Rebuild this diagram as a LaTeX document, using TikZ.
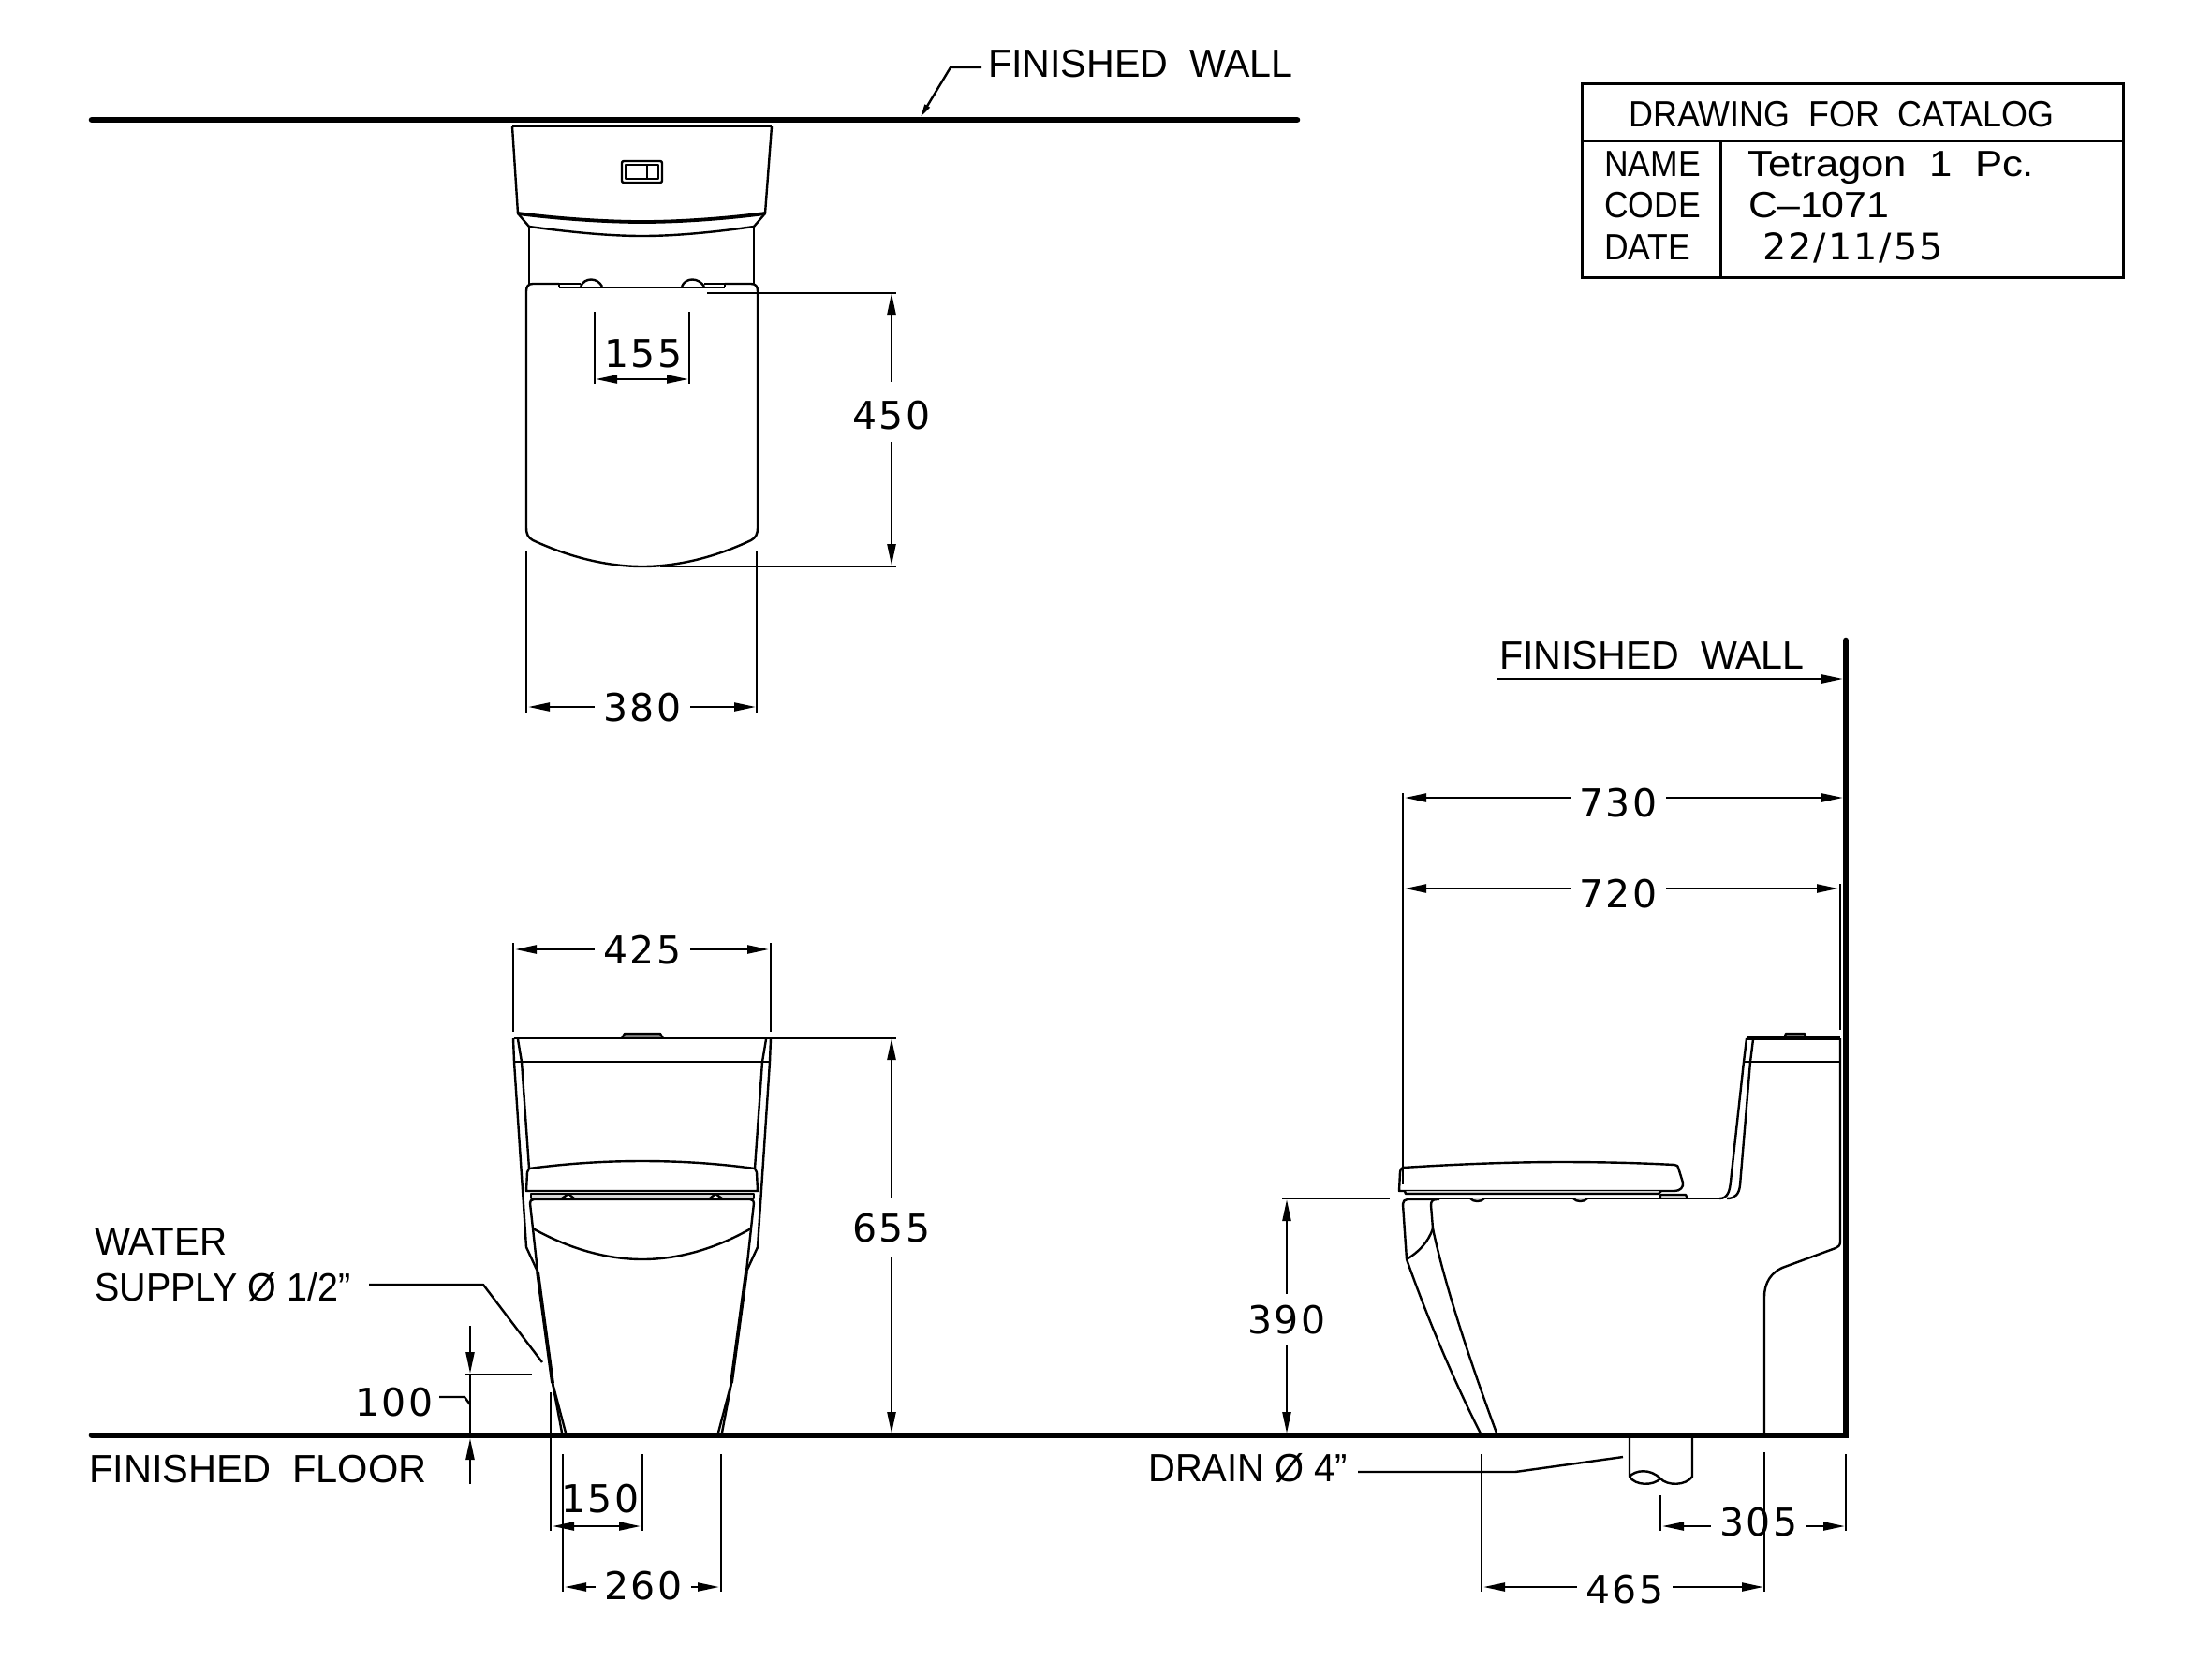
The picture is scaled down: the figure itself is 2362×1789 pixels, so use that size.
\documentclass[tikz,border=0pt]{standalone}
\usepackage{fontspec}
\setmainfont{Liberation Sans}
\newfontfamily\dimfont[LetterSpace=5]{DejaVu Sans}
\usetikzlibrary{arrows.meta}
\definecolor{tab_grey}{RGB}{130, 130, 130}
\definecolor{strip_grey}{RGB}{215, 215, 215}
\tikzstyle{wallline}=[line width=6.6pt,line cap=round]
\tikzstyle{boxline}=[line width=3pt]
\tikzstyle{outline}=[line width=2.4pt,line join=round]
\tikzstyle{thickline}=[line width=3.8pt,line join=round]
\tikzstyle{extline}=[line width=2.3pt]
\tikzstyle{leadline}=[line width=2.4pt,line join=round]
\tikzstyle{dimline}=[line width=2.3pt,-{Triangle[length=23pt,width=9pt]}]
\tikzstyle{dimboth}=[line width=2.3pt,{Triangle[length=23pt,width=9pt]}-{Triangle[length=23pt,width=9pt]}]
\tikzstyle{dimlbl}=[font=\dimfont\fontsize{41}{41}\selectfont,text height=30pt,text depth=0pt,
  inner xsep=10pt,inner ysep=17pt]
\tikzstyle{note}=[font=\fontsize{42}{42}\selectfont,anchor=base west,inner sep=0pt]
\tikzstyle{boxtext}=[font=\fontsize{39}{39}\selectfont,anchor=base west,inner sep=0pt]
\tikzstyle{boxnum}=[font=\dimfont\fontsize{39}{39}\selectfont,anchor=base west,inner sep=0pt]
\begin{document}
\begin{tikzpicture}[x=1pt, y=-1pt]
    \useasboundingbox (0, 0) rectangle (2362, 1789);
    \draw [style=wallline] (98, 128) to (1385, 128);
    \draw [style=wallline] (98, 1533) to (1971, 1533) to (1971, 684);

    \node [style=boxtext, xscale=0.92] (title) at (1739, 135) {DRAWING~~FOR~~CATALOG};
    \node [style=boxtext, xscale=0.91] (name) at (1713, 188) {NAME};
    \node [style=boxtext, xscale=0.91] (code) at (1713, 232) {CODE};
    \node [style=boxtext, xscale=0.91] (date) at (1713, 277) {DATE};
    \node [style=boxtext, xscale=1.12] (model) at (1866, 188) {Tetragon~~1~~Pc.};
    \node [style=boxtext, xscale=1.1] (number) at (1867, 232) {C--1071};
    \node [style=boxnum, xscale=1.02] (issued) at (1882, 277) {22/11/55};
    \draw [style=boxline] (1689, 89) rectangle (2267, 296);
    \draw [style=boxline] (1689, 150) to (2267, 150);
    \draw [style=boxline] (1837, 150) to (1837, 296);

    \draw [style=outline] (547, 135) to (824, 135);
    \draw [style=outline] (547, 135) to (553, 228) to (565, 242);
    \draw [style=outline] (824, 135) to (817, 228) to (805, 242);
    \draw [style=thickline] (553, 228) .. controls (600, 234) and (650, 237) .. (686, 237) .. controls (722, 237) and (770, 234) .. (817, 228);
    \draw [style=outline] (565, 242) .. controls (610, 248) and (650, 252) .. (686, 252) .. controls (722, 252) and (762, 248) .. (805, 242);
    \draw [style=outline] (565, 242) to (565, 303);
    \draw [style=outline] (805, 242) to (805, 303);
    \draw [style=outline, rounded corners=2pt] (664, 172) rectangle (707, 195);
    \draw [style=outline] (668, 176) rectangle (703, 191);
    \draw [style=outline] (691, 176) to (691, 191);
    \draw [style=outline] (597, 307) to (774, 307);
    \draw [style=outline] (597, 307) to (597, 303) to (620, 303);
    \draw [style=outline] (774, 307) to (774, 303) to (752, 303);
    \draw [style=outline] (620, 306) .. controls (624, 296) and (638, 296) .. (643, 306);
    \draw [style=outline] (728, 306) .. controls (732, 296) and (746, 296) .. (752, 306);
    \draw [style=outline, line cap=round] (597, 303) to (569, 303) .. controls (564, 303) and (562, 306) .. (562, 311) to (562, 563) .. controls (562, 571) and (564, 574) .. (569, 577) .. controls (610, 596) and (650, 605) .. (686, 605) .. controls (722, 605) and (762, 596) .. (802, 577) .. controls (807, 574) and (809, 571) .. (809, 563) to (809, 311) .. controls (809, 306) and (807, 303) .. (802, 303) to (774, 303);

    \coordinate (a155) at (636, 405);
    \coordinate (b155) at (735, 405);
    \node [style=dimlbl] (t155) at (687, 377) {155};
    \draw [style=extline] (635, 333) to (635, 410);
    \draw [style=extline] (736, 333) to (736, 410);
    \draw [style=dimboth] (a155) to (b155);

    \coordinate (a450) at (952, 313);
    \coordinate (b450) at (952, 604);
    \node [style=dimlbl] (t450) at (952, 440) {\raisebox{-3pt}{450}};
    \draw [style=extline] (755, 313) to (957, 313);
    \draw [style=extline] (705, 605) to (957, 605);
    \draw [style=dimline] (t450) to (a450);
    \draw [style=dimline] (t450) to (b450);

    \coordinate (a380) at (564, 755);
    \coordinate (b380) at (807, 755);
    \node [style=dimlbl] (t380) at (686, 755) {380};
    \draw [style=extline] (562, 588) to (562, 761);
    \draw [style=extline] (808, 588) to (808, 761);
    \draw [style=dimline] (t380) to (a380);
    \draw [style=dimline] (t380) to (b380);

    \coordinate (a425) at (550, 1014);
    \coordinate (b425) at (821, 1014);
    \node [style=dimlbl] (t425) at (686, 1014) {425};
    \draw [style=extline] (548, 1007) to (548, 1102);
    \draw [style=extline] (823, 1007) to (823, 1102);
    \draw [style=dimline] (t425) to (a425);
    \draw [style=dimline] (t425) to (b425);

    \draw [style=outline, fill=tab_grey] (664, 1109) to (667, 1104) to (705, 1104) to (708, 1109);
    \draw [style=outline] (549, 1109) to (823, 1109);
    \draw [style=outline] (549, 1134) to (822, 1134);
    \draw [style=outline] (548, 1109) to (549, 1134) to (562, 1332) to (574, 1358);
    \draw [style=outline] (823, 1109) to (822, 1134) to (809, 1332) to (797, 1358);
    \draw [style=outline] (553, 1110) to (557, 1134) to (565, 1248);
    \draw [style=outline] (818, 1110) to (814, 1134) to (806, 1248);
    \draw [style=outline] (565, 1248) .. controls (610, 1242) and (650, 1240) .. (686, 1240) .. controls (722, 1240) and (762, 1242) .. (806, 1248) to (808, 1252) to (809, 1272) to (562, 1272) to (563, 1252) to cycle;
    \draw [style=outline, fill=strip_grey] (567, 1275) rectangle (805, 1280);
    \draw [style=outline, fill=white] (600, 1280) to (607, 1275) to (613, 1280);
    \draw [style=outline, fill=white] (758, 1280) to (764, 1275) to (771, 1280);
    \draw [style=outline] (570, 1281) to (801, 1281) .. controls (804, 1281) and (805, 1283) .. (805, 1285) to (802, 1312) to (797, 1358);
    \draw [style=outline] (570, 1281) .. controls (567, 1281) and (566, 1283) .. (566, 1285) to (569, 1312) to (574, 1358);
    \draw [style=outline] (569, 1312) .. controls (610, 1335) and (650, 1345) .. (686, 1345) .. controls (722, 1345) and (762, 1335) .. (802, 1312);
    \draw [style=thickline] (574, 1358) to (590, 1477);
    \draw [style=thickline] (797, 1358) to (781, 1477);
    \draw [style=outline] (590, 1477) to (600, 1530);
    \draw [style=outline] (590, 1477) to (604, 1530);
    \draw [style=outline] (781, 1477) to (771, 1530);
    \draw [style=outline] (781, 1477) to (767, 1530);

    \coordinate (a655) at (952, 1109);
    \coordinate (b655) at (952, 1531);
    \node [style=dimlbl] (t655) at (952, 1311) {655};
    \draw [style=extline] (823, 1109) to (957, 1109);
    \draw [style=dimline] (t655) to (a655);
    \draw [style=dimline] (t655) to (b655);

    \node [style=note, xscale=0.96] (water) at (101, 1340) {WATER};
    \node [style=note, xscale=0.94] (supply) at (101, 1389) {SUPPLY Ø 1/2"};
    \coordinate (w0) at (394, 1372);
    \coordinate (w1) at (516, 1372);
    \coordinate (w2) at (579, 1455);
    \draw [style=leadline] (w0) to (w1) to (w2);

    \node [style=dimlbl, inner sep=0pt] (t100) at (421, 1497) {100};
    \coordinate (a100) at (502, 1416);
    \coordinate (b100) at (502, 1467);
    \coordinate (c100) at (502, 1585);
    \coordinate (d100) at (502, 1536);
    \coordinate (h0) at (469, 1492);
    \coordinate (h1) at (496, 1492);
    \coordinate (h2) at (502, 1500);
    \draw [style=dimline] (a100) to (b100);
    \draw [style=dimline] (c100) to (d100);
    \draw [style=extline] (502, 1467) to (502, 1536);
    \draw [style=extline] (497, 1468) to (568, 1468);
    \draw [style=leadline] (h0) to (h1) to (h2);
    \node [style=note, xscale=0.99] (floor) at (95, 1583) {FINISHED~~FLOOR};

    \node [style=dimlbl, inner sep=0pt] (t150) at (641, 1600) {150};
    \coordinate (a150) at (590, 1630);
    \coordinate (b150) at (684, 1630);
    \draw [style=extline] (588, 1487) to (588, 1635);
    \draw [style=extline] (601, 1553) to (601, 1700);
    \draw [style=extline] (686, 1553) to (686, 1635);
    \draw [style=extline] (770, 1553) to (770, 1700);
    \draw [style=dimboth] (a150) to (b150);

    \coordinate (a260) at (603, 1695);
    \coordinate (b260) at (768, 1695);
    \node [style=dimlbl] (t260) at (687, 1695) {\raisebox{1.5pt}{260}};
    \draw [style=dimline] (t260) to (a260);
    \draw [style=dimline] (t260) to (b260);

    \node [style=note, xscale=0.98] (wall1) at (1055, 82) {FINISHED~~WALL};
    \coordinate (l0) at (1048, 72);
    \coordinate (l1) at (1015, 72);
    \coordinate (l2) at (983, 125);
    \draw [style=leadline, -{Triangle[length=14pt,width=6pt]}] (l0) to (l1) to (l2);

    \node [style=note, xscale=0.98] (wall2) at (1601, 714) {FINISHED~~WALL};
    \coordinate (r0) at (1599, 725);
    \coordinate (r1) at (1968, 725);
    \draw [style=dimline] (r0) to (r1);

    \coordinate (a730) at (1500, 852);
    \coordinate (b730) at (1968, 852);
    \node [style=dimlbl] (t730) at (1728, 852) {\raisebox{-5pt}{730}};
    \draw [style=dimline] (t730) to (a730);
    \draw [style=dimline] (t730) to (b730);

    \coordinate (a720) at (1500, 949);
    \coordinate (b720) at (1963, 949);
    \node [style=dimlbl] (t720) at (1728, 949) {\raisebox{-5pt}{720}};
    \draw [style=dimline] (t720) to (a720);
    \draw [style=dimline] (t720) to (b720);
    \draw [style=extline] (1498, 847) to (1498, 1265);
    \draw [style=extline] (1965, 944) to (1965, 1100);

    \draw [style=outline, fill=tab_grey] (1905, 1109) to (1907, 1104) to (1927, 1104) to (1929, 1109);
    \draw [style=thickline] (1865, 1109) to (1965, 1109);
    \draw [style=outline] (1862, 1134) to (1965, 1134);
    \draw [style=outline] (1865, 1109) to (1862, 1134) to (1848, 1262) .. controls (1847, 1272) and (1845, 1280) .. (1836, 1280);
    \draw [style=outline] (1872, 1110) to (1869, 1134) to (1858, 1266) .. controls (1857, 1275) and (1853, 1280) .. (1844, 1280);
    \draw [style=outline] (1965, 1109) to (1965, 1326) .. controls (1965, 1330) and (1963, 1332) .. (1960, 1333) to (1903, 1354) .. controls (1892, 1359) and (1884, 1369) .. (1884, 1385) to (1884, 1533);
    \draw [style=outline] (1498, 1247) .. controls (1560, 1243) and (1620, 1241) .. (1667, 1241) .. controls (1710, 1241) and (1750, 1242) .. (1788, 1244) .. controls (1791, 1244) and (1792, 1246) .. (1792, 1247) to (1797, 1263) .. controls (1798, 1268) and (1794, 1272) .. (1788, 1272) to (1494, 1272) to (1495, 1252) .. controls (1495, 1249) and (1496, 1248) .. (1498, 1247);
    \draw [style=outline, fill=strip_grey] (1500, 1272) to (1501, 1275) to (1771, 1275) to (1774, 1272);
    \draw [style=outline, fill=strip_grey] (1773, 1280) to (1773, 1276) to (1800, 1276) to (1802, 1280);
    \draw [style=outline] (1530, 1280) to (1836, 1280);
    \draw [style=outline, fill=strip_grey] (1570, 1280) .. controls (1573, 1284) and (1582, 1284) .. (1585, 1280);
    \draw [style=outline, fill=strip_grey] (1680, 1280) .. controls (1683, 1284) and (1692, 1284) .. (1695, 1280);
    \draw [style=outline] (1537, 1281) to (1503, 1281) .. controls (1500, 1281) and (1498, 1283) .. (1498, 1286) to (1502, 1345) .. controls (1518, 1390) and (1545, 1460) .. (1582, 1533);
    \draw [style=outline] (1534, 1281) .. controls (1530, 1281) and (1528, 1283) .. (1528, 1287) to (1530, 1312) .. controls (1542, 1370) and (1570, 1455) .. (1599, 1533);
    \draw [style=outline] (1502, 1345) .. controls (1515, 1337) and (1525, 1327) .. (1530, 1312);

    \coordinate (a390) at (1374, 1281);
    \coordinate (b390) at (1374, 1531);
    \node [style=dimlbl, inner ysep=12pt] (t390) at (1374, 1409) {390};
    \draw [style=extline] (1369, 1280) to (1484, 1280);
    \draw [style=dimline] (t390) to (a390);
    \draw [style=dimline] (t390) to (b390);

    \draw [style=outline] (1740, 1536) to (1740, 1577) .. controls (1746, 1570) and (1762, 1568) .. (1773, 1579) .. controls (1780, 1587) and (1800, 1587) .. (1807, 1577) to (1807, 1536);
    \draw [style=outline] (1740, 1577) .. controls (1746, 1587) and (1766, 1587) .. (1773, 1579);
    \node [style=note, xscale=0.95] (drain) at (1226, 1582) {DRAIN Ø 4"};
    \coordinate (d0) at (1450, 1572);
    \coordinate (d1) at (1618, 1572);
    \coordinate (d2) at (1733, 1556);
    \draw [style=leadline] (d0) to (d1) to (d2);

    \coordinate (a465) at (1584, 1695);
    \coordinate (b465) at (1883, 1695);
    \node [style=dimlbl] (t465) at (1735, 1695) {\raisebox{-2pt}{465}};
    \draw [style=extline] (1582, 1553) to (1582, 1700);
    \draw [style=extline] (1884, 1551) to (1884, 1700);
    \draw [style=dimline] (t465) to (a465);
    \draw [style=dimline] (t465) to (b465);

    \coordinate (a305) at (1775, 1630);
    \coordinate (b305) at (1970, 1630);
    \node [style=dimlbl] (t305) at (1878, 1630) {\raisebox{5pt}{305}};
    \draw [style=extline] (1773, 1597) to (1773, 1635);
    \draw [style=extline] (1971, 1553) to (1971, 1635);
    \draw [style=dimline] (t305) to (a305);
    \draw [style=dimline] (t305) to (b305);
\end{tikzpicture}
\end{document}
